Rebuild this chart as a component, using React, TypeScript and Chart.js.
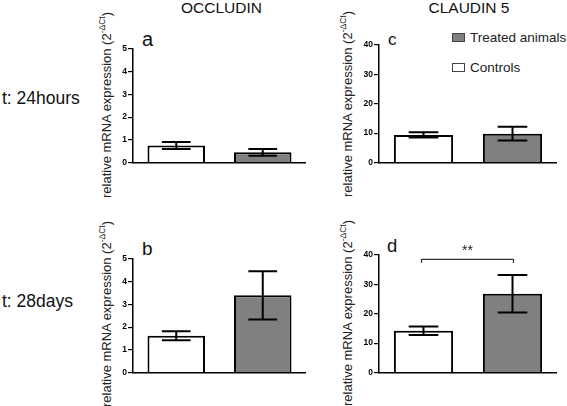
import React, { useEffect, useRef } from 'react';
import { Chart, registerables } from 'chart.js';

Chart.register(...registerables);

// ---------- data ----------
const groups = ['Controls', 'Treated animals'];
const barColors = ['#ffffff', '#808080'];

const occludin24hMean = [0.75, 0.45];
const occludin24hErr = [0.15, 0.15];
const occludin28dMean = [1.62, 3.4];
const occludin28dErr = [0.2, 1.06];

const claudin24hMean = [9.4, 9.8];
const claudin24hErr = [0.9, 2.35];
const claudin28dMean = [14.2, 26.8];
const claudin28dErr = [1.45, 6.4];

const occludinTicks = [0, 1, 2, 3, 4, 5];
const claudinTicks = [0, 10, 20, 30, 40];

const claudin28dSigLabel = '**';
const claudin28dSigLevel = 38.5;

const FONT = "Arial, 'Liberation Sans', Helvetica, sans-serif";

type Sig = { label: string; level: number };

type PanelProps = {
  means: number[];
  errs: number[];
  ticks: number[];
  axisX: number;
  top: number;
  bottom: number;
  right: number;
  sig?: Sig;
};

function BarPanel({ means, errs, ticks, axisX, top, bottom, right, sig }: PanelProps) {
  const ref = useRef<HTMLCanvasElement | null>(null);
  const YW = 32;
  const canvasLeft = axisX - YW;
  const canvasTop = Math.floor(top) - 10;
  const canvasH = Math.ceil(bottom) + 8 - canvasTop;
  const canvasW = Math.ceil(right) - canvasLeft;
  const padTop = top - canvasTop;
  const padBottom = canvasH - (bottom - canvasTop);
  const padRight = canvasW - (right - canvasLeft);

  useEffect(() => {
    if (!ref.current) return;
    const overlay = {
      id: 'errorBarsAndSig',
      afterDatasetsDraw(chart: any) {
        const ctx = chart.ctx;
        const meta = chart.getDatasetMeta(0);
        const yS = chart.scales.y;
        ctx.save();
        ctx.strokeStyle = '#000';
        ctx.lineWidth = 2;
        meta.data.forEach((bar: any, i: number) => {
          const x = bar.x;
          const half = bar.width / 4;
          const yT = yS.getPixelForValue(means[i] + errs[i]);
          const yB = yS.getPixelForValue(means[i] - errs[i]);
          ctx.beginPath();
          ctx.moveTo(x, yT);
          ctx.lineTo(x, yB);
          ctx.moveTo(x - half, yT);
          ctx.lineTo(x + half, yT);
          ctx.moveTo(x - half, yB);
          ctx.lineTo(x + half, yB);
          ctx.stroke();
        });
        if (sig) {
          const x0 = meta.data[0].x - 2;
          const x1 = meta.data[1].x + 1;
          const yy = yS.getPixelForValue(sig.level);
          ctx.strokeStyle = '#333';
          ctx.lineWidth = 1.2;
          ctx.beginPath();
          ctx.moveTo(x0, yy + 3.5);
          ctx.lineTo(x0, yy);
          ctx.lineTo(x1, yy);
          ctx.lineTo(x1, yy + 3.5);
          ctx.stroke();
          ctx.fillStyle = '#222';
          ctx.font = `14px ${FONT}`;
          ctx.textAlign = 'center';
          ctx.textBaseline = 'alphabetic';
          ctx.fillText(sig.label, (x0 + x1) / 2, yy - 4);
        }
        ctx.restore();
      },
    };

    const chart = new Chart(ref.current, {
      type: 'bar',
      data: {
        labels: groups,
        datasets: [
          {
            data: means,
            backgroundColor: barColors,
            borderColor: '#000',
            borderWidth: 2,
            borderSkipped: 'start',
            barPercentage: 0.665,
            categoryPercentage: 1,
          },
        ],
      },
      options: {
        animation: false,
        responsive: false,
        maintainAspectRatio: false,
        events: [],
        layout: { padding: { left: 0, right: padRight, top: padTop, bottom: padBottom } },
        plugins: { legend: { display: false }, tooltip: { enabled: false } },
        scales: {
          x: {
            grid: { display: false, drawTicks: false },
            border: { display: true, color: '#000', width: 1.5 },
            ticks: { display: false },
          },
          y: {
            min: ticks[0],
            max: ticks[ticks.length - 1],
            afterFit: (s: any) => {
              s.width = YW;
            },
            ticks: {
              stepSize: ticks[1] - ticks[0],
              color: '#000',
              padding: 1,
              font: { family: FONT, size: 8.5, weight: 'bold' },
            },
            grid: {
              drawOnChartArea: false,
              drawTicks: true,
              tickLength: 5,
              color: '#000',
              lineWidth: 1.2,
            },
            border: { display: true, color: '#000', width: 1.5 },
          },
        },
      },
      plugins: [overlay],
    } as any);
    return () => chart.destroy();
  }, []);

  return (
    <canvas
      ref={ref}
      width={canvasW}
      height={canvasH}
      style={{ position: 'absolute', left: canvasLeft, top: canvasTop, width: canvasW, height: canvasH }}
    />
  );
}

function Txt({ x, baseline, size, children, align = 'left', color = '#111' }: any) {
  const top = baseline - 0.8465 * size;
  const style: any = {
    position: 'absolute',
    top,
    fontSize: size,
    lineHeight: 1,
    fontFamily: FONT,
    color,
    whiteSpace: 'nowrap',
  };
  if (align === 'center') {
    style.left = x;
    style.transform = 'translateX(-50%)';
  } else {
    style.left = x;
  }
  return <div style={style}>{children}</div>;
}

function YTitle({ cx, cy }: { cx: number; cy: number }) {
  return (
    <div
      style={{
        position: 'absolute',
        left: cx,
        top: cy,
        transform: 'translate(-50%, -50%) rotate(-90deg)',
        whiteSpace: 'nowrap',
        fontSize: 13,
        lineHeight: 1,
        fontFamily: FONT,
        color: '#222',
      }}
    >
      relative mRNA expression (2
      <sup style={{ fontSize: 8.5, lineHeight: 0, verticalAlign: 'super' }}>-ΔCt</sup>)
    </div>
  );
}

function LegendItem({ y, fill, label }: { y: number; fill: string; label: string }) {
  return (
    <>
      <div
        style={{
          position: 'absolute',
          left: 452,
          top: y - 4.5,
          width: 13,
          height: 9,
          boxSizing: 'border-box',
          background: fill,
          border: '1px solid #444',
        }}
      />
      <Txt x={470} baseline={y + 5} size={13.5} color="#222">
        {label}
      </Txt>
    </>
  );
}

export default function App() {
  return (
    <div
      style={{
        position: 'absolute',
        left: 0,
        top: 0,
        width: 567,
        height: 406,
        background: '#fff',
        overflow: 'hidden',
      }}
    >
      <Txt x={221.5} baseline={13.5} size={15.5} align="center">OCCLUDIN</Txt>
      <Txt x={469} baseline={13.5} size={15.5} align="center">CLAUDIN 5</Txt>

      <Txt x={2} baseline={105} size={17.5}>t: 24hours</Txt>
      <Txt x={2} baseline={308} size={17.5}>t: 28days</Txt>

      <YTitle cx={106} cy={105} />
      <YTitle cx={106} cy={314} />
      <YTitle cx={347} cy={104} />
      <YTitle cx={347} cy={313} />

      <Txt x={142} baseline={46} size={20}>a</Txt>
      <Txt x={142} baseline={255} size={19}>b</Txt>
      <Txt x={388} baseline={45} size={17}>c</Txt>
      <Txt x={387} baseline={252.5} size={18.5}>d</Txt>

      <LegendItem y={37.5} fill="#808080" label={groups[1]} />
      <LegendItem y={67.5} fill="#ffffff" label={groups[0]} />

      <BarPanel means={occludin24hMean} errs={occludin24hErr} ticks={occludinTicks} axisX={133} top={49} bottom={162.5} right={306} />
      <BarPanel means={occludin28dMean} errs={occludin28dErr} ticks={occludinTicks} axisX={133} top={259} bottom={372.5} right={306} />
      <BarPanel means={claudin24hMean} errs={claudin24hErr} ticks={claudinTicks} axisX={379} top={45} bottom={162.5} right={557} />
      <BarPanel
        means={claudin28dMean}
        errs={claudin28dErr}
        ticks={claudinTicks}
        axisX={379}
        top={255}
        bottom={372.5}
        right={557}
        sig={{ label: claudin28dSigLabel, level: claudin28dSigLevel }}
      />
    </div>
  );
}
